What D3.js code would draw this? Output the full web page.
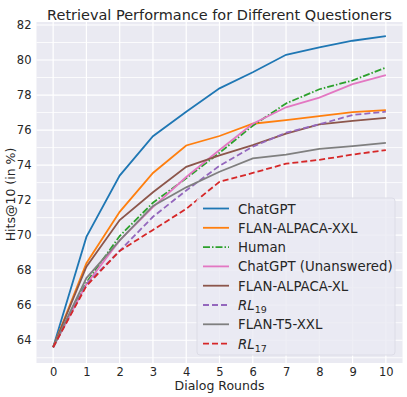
<!DOCTYPE html>
<html>
<head>
<meta charset="utf-8">
<script src="https://cdn.jsdelivr.net/npm/d3@7"></script>
<style>
  body { margin: 0; background: #fff; }
  svg { display: block; font-family: "DejaVu Sans", sans-serif; }
</style>
</head>
<body>
<div id="chart"></div>
<script>
// data
const rounds = [0, 1, 2, 3, 4, 5, 6, 7, 8, 9, 10];
const seriesNames = ['ChatGPT', 'FLAN-ALPACA-XXL', 'Human', 'ChatGPT (Unanswered)',
    'FLAN-ALPACA-XL', 'RL19', 'FLAN-T5-XXL', 'RL17'];
const chatgpt     = [63.6, 69.9, 73.4, 75.65, 77.05, 78.38, 79.3, 80.3, 80.72, 81.1, 81.36];
const flanAlpXXL  = [63.6, 68.4, 71.33, 73.55, 75.12, 75.66, 76.36, 76.57, 76.8, 77.02, 77.14];
const human       = [63.6, 67.3, 69.95, 71.85, 73.25, 74.7, 76.25, 77.52, 78.33, 78.83, 79.57];
const chatgptUnans= [63.6, 67.2, 69.7, 71.6, 73.32, 74.86, 76.36, 77.3, 77.85, 78.62, 79.13];
const flanAlpXL   = [63.6, 68.2, 70.86, 72.45, 73.9, 74.55, 75.14, 75.8, 76.33, 76.52, 76.7];
const rl19        = [63.6, 67.2, 69.1, 71.05, 72.55, 73.96, 75.05, 75.85, 76.33, 76.86, 77.05];
const flanT5XXL   = [63.6, 67.55, 69.7, 71.67, 72.73, 73.62, 74.38, 74.6, 74.92, 75.08, 75.27];
const rl17        = [63.6, 67.1, 69.1, 70.3, 71.5, 73.05, 73.55, 74.08, 74.3, 74.6, 74.86];
const yTicks = [64, 66, 68, 70, 72, 74, 76, 78, 80, 82];

const allSeries = [chatgpt, flanAlpXXL, human, chatgptUnans, flanAlpXL, rl19, flanT5XXL, rl17];
const colors = ['#1f77b4', '#ff7f0e', '#2ca02c', '#e377c2', '#8c564b', '#9467bd', '#7f7f7f', '#d62728'];
const dashes = [null, null, '7,2,1.5,2', null, null, '6,3', null, '6,3'];

const width = 407, height = 397;
const plot = { left: 36.5, right: 402.5, top: 22, bottom: 363 };

const svg = d3.select('#chart').append('svg')
    .attr('width', width)
    .attr('height', height);

const x = d3.scaleLinear().domain([-0.5, 10.5]).range([plot.left, plot.right]);
const y = d3.scaleLinear().domain([62.7, 82.17]).range([plot.bottom, plot.top]);

// background + grid
svg.append('rect')
    .attr('x', plot.left).attr('y', plot.top)
    .attr('width', plot.right - plot.left).attr('height', plot.bottom - plot.top)
    .attr('fill', '#eaeaf2');

const minorY = d3.range(63, 83, 1);
svg.append('g').selectAll('line').data(minorY).enter().append('line')
    .attr('x1', plot.left).attr('x2', plot.right)
    .attr('y1', d => y(d)).attr('y2', d => y(d))
    .attr('stroke', '#fff').attr('stroke-width', d => d % 2 === 0 ? 1.2 : 0.8);

svg.append('g').selectAll('line').data(rounds).enter().append('line')
    .attr('y1', plot.top).attr('y2', plot.bottom)
    .attr('x1', d => x(d)).attr('x2', d => x(d))
    .attr('stroke', '#fff').attr('stroke-width', 1.2);

// axes
const xAxis = svg.append('g')
    .attr('transform', `translate(0,${plot.bottom})`)
    .call(d3.axisBottom(x).tickValues(rounds).tickSize(0).tickPadding(5));
const yAxis = svg.append('g')
    .attr('transform', `translate(${plot.left},0)`)
    .call(d3.axisLeft(y).tickValues(yTicks).tickSize(0).tickPadding(5));
[xAxis, yAxis].forEach(g => {
    g.select('.domain').remove();
    g.selectAll('text').attr('font-size', 11.5).attr('fill', '#262626')
        .attr('font-family', '"DejaVu Sans", sans-serif');
});

svg.append('text')
    .attr('x', (plot.left + plot.right) / 2).attr('y', 390)
    .attr('text-anchor', 'middle').attr('font-size', 12.5).attr('fill', '#262626')
    .text('Dialog Rounds');

svg.append('text')
    .attr('transform', `translate(14.5,${(plot.top + plot.bottom) / 2 + 2}) rotate(-90)`)
    .attr('text-anchor', 'middle').attr('font-size', 12.5).attr('fill', '#262626')
    .text('Hits@10 (in %)');

const title = svg.append('text')
    .attr('x', (plot.left + plot.right) / 2).attr('y', 19.5)
    .attr('text-anchor', 'middle').attr('font-size', 16).attr('fill', '#262626')
    .text('Retrieval Performance for Different Questioners');
// fit the title to the width it has in the reference
const tw = title.node().getComputedTextLength();
title.attr('font-size', 16 * 345 / tw);

// lines
const line = d3.line()
    .x((d, i) => x(rounds[i]))
    .y(d => y(d));

svg.append('g').selectAll('path').data(allSeries).enter().append('path')
    .attr('d', d => line(d))
    .attr('fill', 'none')
    .attr('stroke', (d, i) => colors[i])
    .attr('stroke-width', 1.8)
    .attr('stroke-dasharray', (d, i) => dashes[i]);

// legend
const lg = svg.append('g').attr('transform', 'translate(197,198)');
lg.append('rect')
    .attr('width', 198).attr('height', 157).attr('rx', 3)
    .attr('fill', '#eaeaf2').attr('fill-opacity', 0.8)
    .attr('stroke', '#dcdce6').attr('stroke-width', 1);

const items = lg.selectAll('g.item').data(seriesNames).enter().append('g')
    .attr('class', 'item')
    .attr('transform', (d, i) => `translate(0,${10.5 + i * 19.3})`);

items.append('line')
    .attr('x1', 6).attr('x2', 32)
    .attr('stroke', (d, i) => colors[i])
    .attr('stroke-width', 1.8)
    .attr('stroke-dasharray', (d, i) => dashes[i]);

items.each(function(d) {
    const t = d3.select(this).append('text')
        .attr('x', 41).attr('y', 5).attr('font-size', 13.3).attr('fill', '#262626');
    const m = d.match(/^(RL)(\d+)$/);
    if (m) {
        t.append('tspan').attr('font-style', 'italic').text(m[1]);
        t.append('tspan').attr('font-size', 9.5).attr('dy', 3).text(m[2]);
    } else {
        t.text(d);
    }
});
</script>
</body>
</html>
